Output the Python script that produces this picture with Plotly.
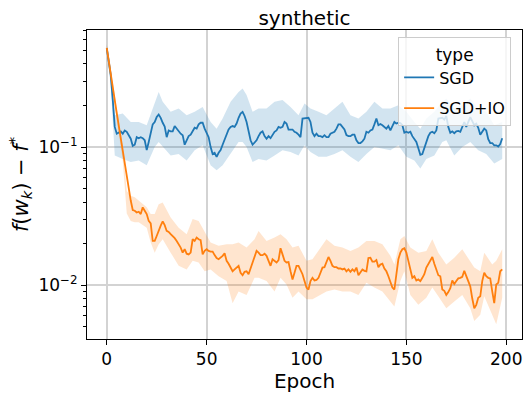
import plotly.graph_objects as go

epochs = list(range(199))

sgd = [0.52, 0.42, 0.33, 0.22, 0.14, 0.125, 0.127, 0.130, 0.125, 0.132,
       0.129, 0.122, 0.115, 0.102, 0.104, 0.118, 0.116, 0.118, 0.116, 0.112,
       0.095, 0.109, 0.125, 0.146, 0.152, 0.165, 0.172, 0.163, 0.150, 0.141,
       0.118, 0.132, 0.130, 0.130, 0.142, 0.136, 0.130, 0.125, 0.122, 0.104,
       0.112, 0.120, 0.123, 0.129, 0.138, 0.136, 0.146, 0.150, 0.150, 0.136,
       0.125, 0.118, 0.100, 0.089, 0.091, 0.085, 0.091, 0.095, 0.104, 0.114,
       0.125, 0.134, 0.140, 0.142, 0.140, 0.148, 0.163, 0.175, 0.180, 0.168,
       0.152, 0.132, 0.112, 0.104, 0.109, 0.112, 0.120, 0.127, 0.130, 0.120,
       0.115, 0.120, 0.116, 0.122, 0.129, 0.132, 0.140, 0.138, 0.140, 0.152,
       0.148, 0.134, 0.134, 0.134, 0.129, 0.127, 0.123, 0.118, 0.161, 0.161,
       0.161, 0.163, 0.152, 0.127, 0.120, 0.125, 0.120, 0.120, 0.118, 0.122,
       0.118, 0.118, 0.125, 0.127, 0.129, 0.136, 0.146, 0.146, 0.141, 0.134,
       0.122, 0.120, 0.120, 0.123, 0.123, 0.112, 0.107, 0.107, 0.110, 0.115,
       0.129, 0.127, 0.132, 0.134, 0.146, 0.161, 0.144, 0.147, 0.144, 0.140,
       0.136, 0.142, 0.132, 0.142, 0.152, 0.148, 0.150, 0.149, 0.144, 0.127,
       0.129, 0.127, 0.129, 0.120, 0.115, 0.109, 0.098, 0.088, 0.089, 0.098,
       0.112, 0.120, 0.127, 0.129, 0.126, 0.132, 0.161, 0.161, 0.163, 0.158,
       0.168, 0.140, 0.127, 0.130, 0.126, 0.130, 0.131, 0.129, 0.142, 0.152,
       0.140, 0.150, 0.165, 0.154, 0.144, 0.148, 0.138, 0.123, 0.130, 0.136,
       0.132, 0.114, 0.107, 0.107, 0.103, 0.103, 0.101, 0.105, 0.116]

sgd_io = [0.524, 0.428, 0.344, 0.277, 0.219, 0.176, 0.142, 0.112, 0.090, 0.072,
          0.059, 0.048, 0.041, 0.035, 0.0346, 0.0336, 0.034, 0.0327, 0.0366, 0.0346,
          0.0327, 0.0292, 0.028, 0.0209, 0.0209, 0.0227, 0.025, 0.027, 0.029, 0.0272,
          0.0247, 0.0243, 0.0234, 0.0227, 0.0219, 0.0209, 0.0198, 0.0187, 0.0172, 0.0182,
          0.0169, 0.0167, 0.0172, 0.0215, 0.0209, 0.0221, 0.0215, 0.0212, 0.0167, 0.0177,
          0.0182, 0.0177, 0.0175, 0.0175, 0.0165, 0.0157, 0.0154, 0.0158, 0.0163, 0.0170,
          0.0150, 0.0143, 0.0135, 0.0126, 0.0130, 0.0135, 0.0138, 0.0123, 0.0118, 0.0125,
          0.0126, 0.0120, 0.0132, 0.0141, 0.0157, 0.0177, 0.0172, 0.0165, 0.0165, 0.0169,
          0.0163, 0.0150, 0.0138, 0.0154, 0.0150, 0.0146, 0.0152, 0.0185, 0.0167, 0.0150,
          0.0146, 0.0147, 0.0126, 0.0110, 0.0123, 0.0138, 0.0138, 0.0130, 0.0120, 0.0107,
          0.0096, 0.0093, 0.0107, 0.0113, 0.0108, 0.0109, 0.0113, 0.0123, 0.0134, 0.0135,
          0.0150, 0.0160, 0.0150, 0.0138, 0.0135, 0.0135, 0.0132, 0.0132, 0.0130, 0.0132,
          0.0126, 0.0130, 0.0125, 0.0130, 0.0126, 0.0134, 0.0118, 0.0125, 0.0130, 0.0127,
          0.0126, 0.0157, 0.0158, 0.0148, 0.0148, 0.0152, 0.0135, 0.0141, 0.0143, 0.0132,
          0.0126, 0.0116, 0.0107, 0.0096, 0.0093, 0.0126, 0.0154, 0.0172, 0.0182, 0.0185,
          0.0172, 0.0150, 0.0126, 0.0113, 0.0116, 0.0108, 0.0110, 0.0107, 0.0113, 0.0120,
          0.0134, 0.0143, 0.0150, 0.0160, 0.0143, 0.0132, 0.0118, 0.0116, 0.0093, 0.0091,
          0.0085, 0.0089, 0.0095, 0.0108, 0.0102, 0.0107, 0.0112, 0.0113, 0.0115, 0.0127,
          0.0116, 0.0107, 0.0098, 0.0080, 0.0068, 0.0072, 0.0081, 0.0083, 0.0107, 0.0123,
          0.0116, 0.0113, 0.0112, 0.0090, 0.0074, 0.0101, 0.0104, 0.0126, 0.0130]

sgd_band_epochs = [0, 2, 4, 8, 12, 16, 20, 24, 26, 28, 32, 36, 40, 44, 48, 52, 55, 58, 62, 66,
                   68, 70, 73, 76, 80, 84, 88, 92, 96, 99, 102, 106, 110, 114, 118, 122, 126, 130, 134, 138,
                   142, 146, 150, 154, 157, 160, 164, 168, 170, 174, 178, 182, 186, 190, 194, 198]
sgd_upper = [0.55, 0.38, 0.170, 0.175, 0.152, 0.152, 0.144, 0.213, 0.251, 0.213,
             0.180, 0.190, 0.170, 0.180, 0.195, 0.152, 0.136, 0.161, 0.213, 0.251,
             0.266, 0.238, 0.180, 0.190, 0.190, 0.213, 0.219, 0.195, 0.170, 0.207,
             0.190, 0.180, 0.170, 0.190, 0.213, 0.170, 0.161, 0.180, 0.213, 0.190,
             0.190, 0.201, 0.180, 0.152, 0.136, 0.161, 0.180, 0.213, 0.225, 0.190,
             0.201, 0.225, 0.190, 0.180, 0.144, 0.152]
sgd_lower = [0.48, 0.28, 0.087, 0.082, 0.078, 0.080, 0.074, 0.100, 0.109, 0.100,
             0.087, 0.089, 0.080, 0.095, 0.103, 0.074, 0.068, 0.074, 0.089, 0.109,
             0.109, 0.100, 0.078, 0.082, 0.080, 0.087, 0.095, 0.092, 0.087, 0.103,
             0.092, 0.085, 0.085, 0.089, 0.095, 0.085, 0.078, 0.089, 0.100, 0.097,
             0.095, 0.103, 0.085, 0.080, 0.070, 0.082, 0.087, 0.109, 0.112, 0.087,
             0.100, 0.109, 0.095, 0.089, 0.076, 0.082]

io_band_epochs = [0, 4, 8, 10, 12, 14, 16, 20, 22, 24, 26, 28, 32, 36, 40, 43, 46, 49, 52, 56,
                  60, 63, 66, 70, 74, 76, 80, 84, 87, 90, 93, 96, 100, 103, 107, 110, 114, 118, 122, 126,
                  130, 134, 138, 142, 144, 147, 149, 152, 156, 160, 163, 166, 170, 174, 178, 182, 184, 187, 189, 193,
                  195, 198]
io_upper = [0.56, 0.24, 0.10, 0.048, 0.0444, 0.0433, 0.0409, 0.0366, 0.0327, 0.0327,
            0.0386, 0.0397, 0.0309, 0.0261, 0.0234, 0.0301, 0.0292, 0.0247, 0.0204, 0.0193,
            0.0198, 0.0198, 0.0204, 0.0187, 0.0215, 0.0247, 0.0209, 0.0221, 0.0234, 0.0215,
            0.0187, 0.0193, 0.0150, 0.0154, 0.0187, 0.0215, 0.0193, 0.0187, 0.0177, 0.0187,
            0.0209, 0.0209, 0.0198, 0.0163, 0.0141, 0.0215, 0.0227, 0.0187, 0.0172, 0.0177,
            0.0215, 0.0172, 0.0141, 0.0158, 0.0182, 0.0150, 0.0134, 0.0126, 0.0172, 0.0141,
            0.0150, 0.0182]
io_lower = [0.49, 0.20, 0.08, 0.033, 0.0292, 0.0285, 0.0285, 0.0261, 0.0204, 0.0172,
            0.0198, 0.0215, 0.0172, 0.0138, 0.0130, 0.0150, 0.0146, 0.0126, 0.0130, 0.0116,
            0.0107, 0.0074, 0.0090, 0.0085, 0.0113, 0.0113, 0.0107, 0.0090, 0.0113, 0.0101,
            0.0081, 0.0090, 0.0079, 0.0079, 0.0085, 0.0090, 0.0093, 0.0090, 0.0090, 0.0085,
            0.0104, 0.0096, 0.0090, 0.0076, 0.0070, 0.0107, 0.0126, 0.0085, 0.0072, 0.0081,
            0.0096, 0.0083, 0.0068, 0.0076, 0.0085, 0.0068, 0.0055, 0.0061, 0.0083, 0.0061,
            0.0052, 0.0081]

x_ticks = [0, 50, 100, 150, 200]
y_ticks = [0.01, 0.1]
y_ticktext = ["10<sup>\u22122</sup>", "10<sup>\u22121</sup>"]
y_minor = [0.005, 0.006, 0.007, 0.008, 0.009, 0.02, 0.03, 0.04, 0.05, 0.06, 0.07, 0.08, 0.09,
           0.2, 0.3, 0.4, 0.5, 0.6, 0.7]

BLUE = "#1f77b4"
ORANGE = "#ff7f0e"
FONT = "DejaVu Sans"

fig = go.Figure()


def add_series(name, xs, ys, bx, up, lo, color, fill):
    fig.add_trace(go.Scatter(x=bx + bx[::-1], y=up + lo[::-1], fill="toself",
                             fillcolor=fill, line=dict(width=0), mode="lines",
                             hoverinfo="skip", showlegend=False, legendgroup=name))
    fig.add_trace(go.Scatter(x=xs, y=ys, mode="lines", name=name, legendgroup=name,
                             line=dict(color=color, width=1.8)))


add_series("SGD", epochs, sgd, sgd_band_epochs, sgd_upper, sgd_lower, BLUE,
           "rgba(31,119,180,0.2)")
add_series("SGD+IO", epochs, sgd_io, io_band_epochs, io_upper, io_lower, ORANGE,
           "rgba(255,127,14,0.2)")

fig.update_layout(
    width=532, height=398,
    margin=dict(l=87, r=10, t=30, b=59, autoexpand=False),
    paper_bgcolor="white", plot_bgcolor="white",
    font=dict(family=FONT, color="black", size=17),
    title=dict(text="synthetic", x=0.5, xref="paper", xanchor="center",
               y=1 - 18 / 398, yref="container", yanchor="middle", automargin=False,
               font=dict(size=20, family=FONT, color="black")),
    legend=dict(title=dict(text="type", side="top center", font=dict(size=17)),
                x=0.975, xanchor="right", y=0.976, yanchor="top",
                bgcolor="rgba(255,255,255,0.8)", bordercolor="#cccccc", borderwidth=1,
                font=dict(size=16, family=FONT), tracegroupgap=7),
    showlegend=True,
)

fig.update_xaxes(
    range=[-9.9, 207.9], tickvals=x_ticks, ticks="outside", ticklen=5, tickwidth=1,
    tickcolor="black", showline=True, linecolor="black", linewidth=1, mirror=True,
    showgrid=True, gridcolor="#d3d3d3", gridwidth=1.5, zeroline=False, automargin=False,
    title=dict(text="Epoch", font=dict(size=20), standoff=2),
    tickfont=dict(size=17),
)

fig.update_yaxes(
    type="log", range=[-2.39, -0.152], tickvals=y_ticks, ticktext=y_ticktext,
    ticks="outside", ticklen=5, tickwidth=1, tickcolor="black",
    showline=True, linecolor="black", linewidth=1, mirror=True,
    showgrid=True, gridcolor="#d3d3d3", gridwidth=1.5, zeroline=False, automargin=False,
    minor=dict(tickvals=y_minor, ticks="outside", ticklen=3, tickwidth=0.8,
               tickcolor="black", showgrid=False),
    title=dict(text="<i>f</i>(<i>w</i><sub><i>k</i></sub>) \u2212 <i>f</i><sup>*</sup>",
               font=dict(size=21), standoff=4),
    tickfont=dict(size=17),
)

fig.write_html("out.html", config={"displayModeBar": False},
               post_script="document.body.style.margin='0';document.body.style.padding='0';")
